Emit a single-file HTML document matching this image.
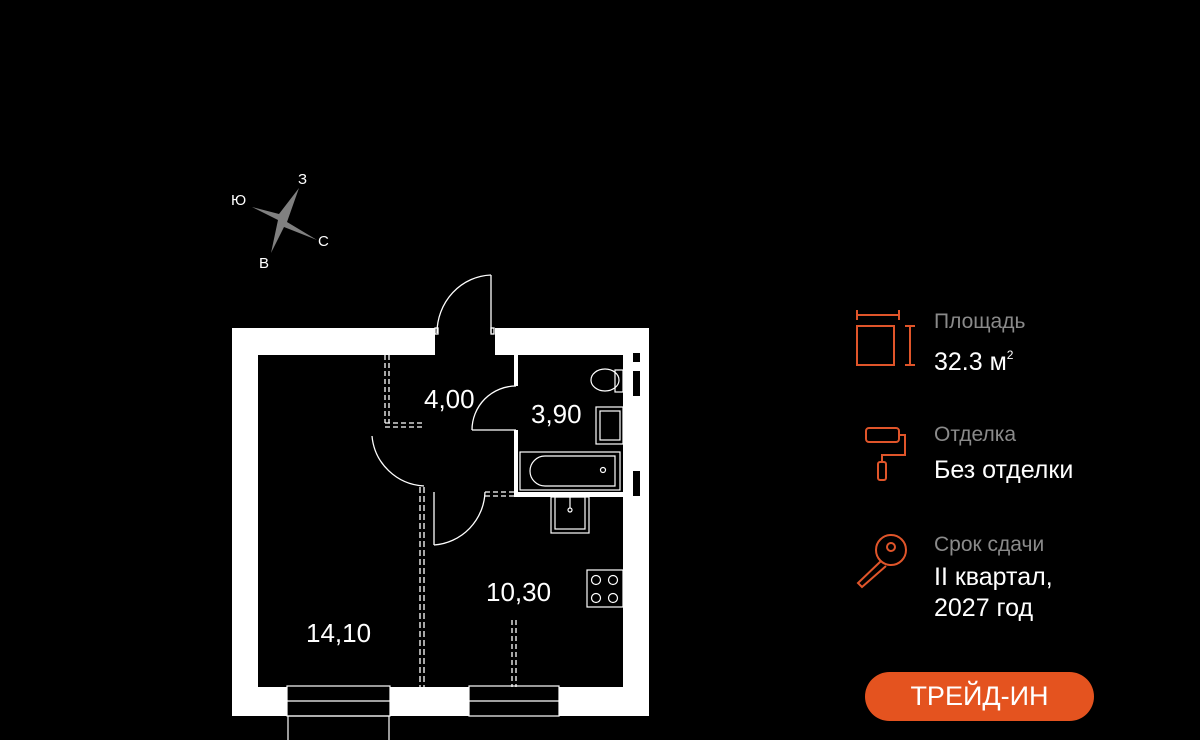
<!DOCTYPE html>
<html><head><meta charset="utf-8"><style>
html,body{margin:0;padding:0;background:#000;}
body{width:1200px;height:740px;overflow:hidden;position:relative;font-family:"Liberation Sans",sans-serif;}
.lbl{position:absolute;color:#8a8a8a;font-size:21px;}
.val{position:absolute;color:#fff;font-size:25px;line-height:31px;}
</style></head><body>
<svg width="1200" height="740" style="position:absolute;left:0;top:0" xmlns="http://www.w3.org/2000/svg">
<polygon points="252,207 279,214 299,188 287,222 317,240 284,227 271,253 278,220" fill="#808080"/>
<g fill="#fff" font-family="Liberation Sans" font-size="15">
<text x="231" y="205">Ю</text><text x="298" y="184">З</text><text x="318" y="246">С</text><text x="259" y="268">В</text>
</g>
<path fill="#fff" fill-rule="evenodd" d="M232,328 H435 V355 H258 V687 H623 V355 H495 V328 H649 V716 H232 Z"/>
<rect x="633" y="353" width="7" height="9" fill="#000"/>
<rect x="633" y="371" width="7" height="25" fill="#000"/>
<rect x="633" y="471" width="7" height="25" fill="#000"/>
<g stroke="#fff" stroke-width="1.2" fill="#000">
<rect x="287" y="686" width="103" height="30"/>
<rect x="469" y="686" width="90" height="30"/>
<rect x="288" y="716" width="101" height="30" fill="none"/>
<line x1="287" y1="701" x2="390" y2="701"/>
<line x1="469" y1="701" x2="559" y2="701"/>
</g>
<g stroke="#fff" stroke-width="1.3" fill="none">
<line x1="491" y1="275" x2="491" y2="333"/>
<path d="M437,333 A56,58 0 0 1 491,275"/>
<rect x="435" y="328" width="3" height="6"/><rect x="491" y="328" width="3" height="6"/>
<line x1="385" y1="355" x2="385" y2="423" stroke-dasharray="5,3"/>
<line x1="389" y1="355" x2="389" y2="423" stroke-dasharray="5,3"/>
<line x1="385" y1="423" x2="425" y2="423" stroke-dasharray="5,3"/>
<line x1="385" y1="427" x2="425" y2="427" stroke-dasharray="5,3"/>
<path d="M372,436 A55,55 0 0 0 424,486"/>
<line x1="420" y1="487" x2="420" y2="687" stroke-dasharray="6,3"/>
<line x1="424" y1="487" x2="424" y2="687" stroke-dasharray="6,3"/>
<line x1="434" y1="492" x2="434" y2="545"/>
<path d="M434,545 A55,55 0 0 0 485,492"/>
<line x1="485" y1="492" x2="516" y2="492" stroke-dasharray="5,3"/>
<line x1="485" y1="496" x2="516" y2="496" stroke-dasharray="5,3"/>
<line x1="472" y1="430" x2="516" y2="430"/>
<path d="M472,430 A44,44 0 0 1 516,386"/>
<line x1="512" y1="620" x2="512" y2="687" stroke-dasharray="5,3"/>
<line x1="516" y1="620" x2="516" y2="687" stroke-dasharray="5,3"/>
</g>
<rect x="514" y="355" width="4" height="31" fill="#fff"/>
<rect x="514" y="430" width="4" height="66" fill="#fff"/>
<rect x="514" y="492" width="109" height="5" fill="#fff"/>
<g stroke="#fff" stroke-width="1.2" fill="none">
<rect x="520" y="452" width="100" height="38"/>
<path d="M600,456 H545 A15,15 0 0 0 545,486 H615 V456 Z"/>
<circle cx="603" cy="470" r="2.5"/>
<ellipse cx="605" cy="380" rx="14" ry="11"/>
<rect x="615" y="370" width="8" height="22"/>
<rect x="596" y="407" width="27" height="37"/>
<rect x="600" y="411" width="20" height="29"/>
<rect x="551" y="497" width="38" height="36"/>
<rect x="555" y="497" width="30" height="32"/>
<line x1="570" y1="497" x2="570" y2="508"/><circle cx="570" cy="510" r="2"/>
<rect x="587" y="570" width="36" height="37"/>
<circle cx="596" cy="580" r="4.5"/><circle cx="613" cy="580" r="4.5"/>
<circle cx="596" cy="598" r="4.5"/><circle cx="613" cy="598" r="4.5"/>
</g>
<g fill="#fff" font-family="Liberation Sans" font-size="26">
<text x="424" y="408">4,00</text><text x="531" y="423">3,90</text>
<text x="486" y="601">10,30</text><text x="306" y="642">14,10</text>
</g>
<g stroke="#e0552a" stroke-width="2" fill="none">
<rect x="857" y="326" width="37" height="39"/>
<line x1="857" y1="315" x2="899" y2="315"/><line x1="857" y1="310" x2="857" y2="320"/><line x1="899" y1="310" x2="899" y2="320"/>
<line x1="910" y1="326" x2="910" y2="365"/><line x1="905" y1="326" x2="915" y2="326"/><line x1="905" y1="365" x2="915" y2="365"/>
<rect x="866" y="428" width="33" height="14" rx="3"/>
<path d="M899,435 H905 V455 H882 V462"/>
<rect x="878" y="462" width="8" height="18" rx="2"/>
<circle cx="891" cy="550" r="15"/><circle cx="891" cy="547" r="4"/>
<path d="M881,561 L858,583 L862,587 L886,566"/>
</g>
</svg>
<div class="lbl" style="left:934px;top:310px">Площадь</div>
<div class="val" style="left:934px;top:340px">32.3 м<sup style="font-size:12px;vertical-align:11px">2</sup></div>
<div class="lbl" style="left:934px;top:423px">Отделка</div>
<div class="val" style="left:934px;top:455px">Без отделки</div>
<div class="lbl" style="left:934px;top:533px">Срок сдачи</div>
<div class="val" style="left:934px;top:562px">II квартал,<br>2027 год</div>
<div style="position:absolute;left:865px;top:672px;width:229px;height:49px;border-radius:25px;background:#e4531f;color:#fff;font-size:27px;text-align:center;line-height:49px;">ТРЕЙД-ИН</div>
</body></html>
